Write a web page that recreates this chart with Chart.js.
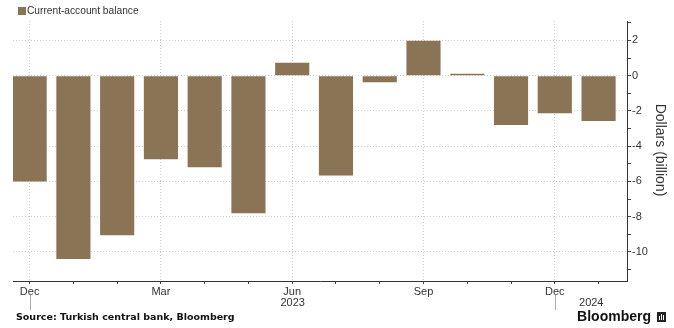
<!DOCTYPE html>
<html>
<head>
<meta charset="utf-8">
<script src="https://cdn.jsdelivr.net/npm/chart.js@4.4.0/dist/chart.umd.min.js"></script>
<style>
  html, body { margin: 0; padding: 0; background: #fff; }
  #wrap { width: 674px; height: 328px; position: relative; }
</style>
</head>
<body>
<div id="wrap"><canvas id="chart"></canvas></div>
<script>
// monthly current-account balance, Dec 2022 .. Jan 2024 (USD bn)
const months = ['Dec', 'Jan', 'Feb', 'Mar', 'Apr', 'May', 'Jun', 'Jul', 'Aug', 'Sep', 'Oct', 'Nov', 'Dec', 'Jan'];
const balance = [-6.0, -10.4, -9.05, -4.75, -5.2, -7.8, 0.73, -5.67, -0.38, 1.98, 0.11, -2.8, -2.13, -2.57];
const labelledMonths = [0, 3, 6, 9, 12];
const yearStarts = [0, 12];
const years = ['2023', '2024'];
const yTicks = [-11, -10, -9, -8, -7, -6, -5, -4, -3, -2, -1, 0, 1, 2, 3];

const barColor = '#8b7355';
const textColor = '#333';
const gridColor = '#cfcfcf';
const tickFont = 'Liberation Sans';

// legend, year labels, source line and logo
const extras = {
  id: 'extras',
  afterDraw(chart) {
    const ctx = chart.ctx;
    const x = chart.scales.x;
    const area = chart.chartArea;
    ctx.save();

    ctx.fillStyle = barColor;
    ctx.fillRect(18, 7, 8, 8);
    ctx.fillStyle = textColor;
    ctx.font = '10.2px "' + tickFont + '"';
    ctx.textBaseline = 'middle';
    ctx.textAlign = 'left';
    ctx.fillText('Current-account balance', 27, 11.5);

    // year separators + labels
    ctx.font = '11px "' + tickFont + '"';
    ctx.strokeStyle = '#aaa';
    ctx.lineWidth = 1;
    yearStarts.forEach((start, i) => {
      const px = Math.round(x.getPixelForValue(start)) + 0.5;
      ctx.beginPath();
      ctx.moveTo(px, 295);
      ctx.lineTo(px, 310);
      ctx.stroke();
      const end = i + 1 < yearStarts.length ? x.getPixelForValue(yearStarts[i + 1]) : area.right;
      ctx.fillStyle = textColor;
      ctx.textAlign = 'center';
      ctx.fillText(years[i], (px + end) / 2, 302.5);
    });

    // y title
    ctx.save();
    ctx.translate(660, 150);
    ctx.rotate(Math.PI / 2);
    ctx.font = '14px "' + tickFont + '"';
    ctx.textAlign = 'center';
    ctx.fillText('Dollars (billion)', 0, 0);
    ctx.restore();

    ctx.textAlign = 'left';
    ctx.font = 'bold 9.5px "DejaVu Sans"';
    ctx.fillStyle = '#111';
    ctx.fillText('Source: Turkish central bank, Bloomberg', 16, 317.5);

    ctx.textAlign = 'right';
    ctx.font = 'bold 14px "Liberation Sans"';
    ctx.fillText('Bloomberg', 651, 317);
    ctx.fillStyle = '#222';
    ctx.fillRect(657, 312, 9, 10);
    ctx.fillStyle = '#fff';
    ctx.fillRect(659, 316, 1, 4);
    ctx.fillRect(661, 314, 1, 6);
    ctx.fillRect(663, 315, 1, 5);
    ctx.restore();
  }
};

new Chart(document.getElementById('chart'), {
  type: 'bar',
  data: {
    datasets: [{
      label: 'Current-account balance',
      data: balance.map((v, i) => ({ x: i, y: v })),
      backgroundColor: barColor,
      borderWidth: 0,
      categoryPercentage: 1,
      barPercentage: 0.78
    }]
  },
  options: {
    responsive: true,
    maintainAspectRatio: false,
    animation: false,
    devicePixelRatio: 1,
    layout: { padding: { top: 21, left: 13, right: 0, bottom: 0 } },
    plugins: { legend: { display: false }, tooltip: { enabled: false } },
    scales: {
      x: {
        type: 'linear',
        offset: false,
        min: -0.38,
        max: 13.65,
        afterBuildTicks: s => { s.ticks = months.map((m, i) => ({ value: i })); },
        afterFit: s => { s.height = 47; },
        ticks: {
          autoSkip: false,
          maxRotation: 0,
          padding: 1,
          color: textColor,
          font: { family: tickFont, size: 11 },
          callback: v => labelledMonths.includes(v) ? months[v] : ''
        },
        grid: {
          offset: false,
          color: c => (c.tick && labelledMonths.includes(c.tick.value)) ? gridColor : 'rgba(0,0,0,0)',
          tickColor: '#444',
          tickLength: 3,
          tickBorderDash: []
        },
        border: { color: '#333', width: 1, dash: [1, 2] }
      },
      y: {
        position: 'right',
        min: -11.65,
        max: 3.1,
        afterBuildTicks: s => { s.ticks = yTicks.map(v => ({ value: v })); },
        afterFit: s => { s.width = 47; },
        ticks: {
          padding: 1,
          color: textColor,
          font: { family: tickFont, size: 11 },
          callback: v => v % 2 === 0 ? String(v) : ''
        },
        grid: {
          color: c => (c.tick && c.tick.value % 2 === 0) ? gridColor : 'rgba(0,0,0,0)',
          tickColor: '#444',
          tickLength: 4,
          tickBorderDash: []
        },
        border: { color: '#333', width: 1, dash: [1, 2] }
      }
    }
  },
  plugins: [extras]
});
</script>
</body>
</html>
